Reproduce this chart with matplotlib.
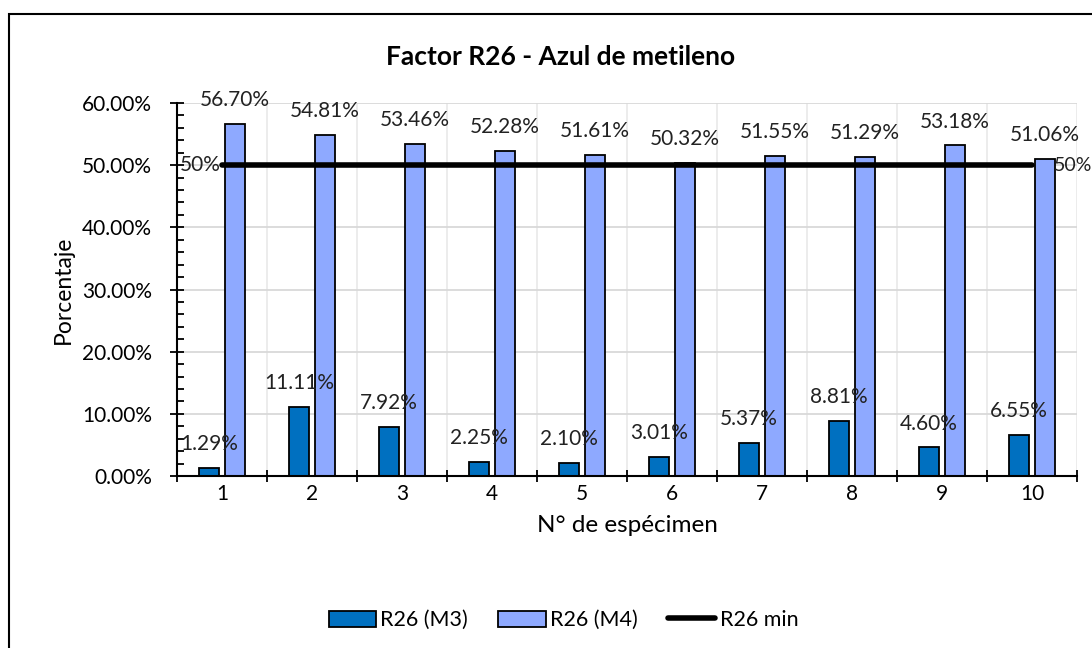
import matplotlib.pyplot as plt
import numpy as np
from matplotlib.patches import Rectangle
from matplotlib.ticker import MultipleLocator, PercentFormatter

plt.rcParams['font.family'] = ['Lato', 'DejaVu Sans']

# datos del ensayo
especimen = [1, 2, 3, 4, 5, 6, 7, 8, 9, 10]
r26_m3 = [1.29, 11.11, 7.92, 2.25, 2.10, 3.01, 5.37, 8.81, 4.60, 6.55]
r26_m4 = [56.70, 54.81, 53.46, 52.28, 51.61, 50.32, 51.55, 51.29, 53.18, 51.06]
r26_min = 50

fig = plt.figure(figsize=(10.92, 6.48), dpi=100)
ax = fig.add_axes([0.1621, 0.2654, 0.8242, 0.5756])

# marco del grafico
fig.patches.append(Rectangle((9 / 1092, -0.1), 1.2, 1 - 14 / 648 + 0.1,
                             transform=fig.transFigure, fill=False,
                             edgecolor='black', linewidth=1.5))

x = np.array(especimen)
w = 0.23
b1 = ax.bar(x - 0.145, r26_m3, w, color='#0070C0', edgecolor='black',
            linewidth=1.3, label='R26 (M3)', zorder=3)
b2 = ax.bar(x + 0.145, r26_m4, w, color='#8EA9FF', edgecolor='black',
            linewidth=1.3, label='R26 (M4)', zorder=3)
ln, = ax.plot([x[0], x[-1]], [r26_min, r26_min], color='black', linewidth=4,
              solid_capstyle='round', label='R26 min', zorder=4)

for xi, v in zip(x, r26_m3):
    ax.annotate(f'{v:.2f}%', (xi - 0.145, v), xytext=(0, 10),
                textcoords='offset points', ha='center', va='bottom',
                fontsize=15, color='#222222', zorder=5)
for xi, v in zip(x, r26_m4):
    ax.annotate(f'{v:.2f}%', (xi + 0.145, v), xytext=(0, 10),
                textcoords='offset points', ha='center', va='bottom',
                fontsize=15, color='#222222', zorder=5)

ax.annotate('50%', (x[0], r26_min), xytext=(-1, 0), textcoords='offset points',
            ha='right', va='center', fontsize=15, color='#222222', zorder=5)
ax.annotate('50%', (x[-1], r26_min), xytext=(16, 0), textcoords='offset points',
            ha='left', va='center', fontsize=14, color='#222222', zorder=5,
            annotation_clip=False)
ax.plot([x[-1] + 0.02, x[-1] + 0.18], [r26_min, r26_min], color='#A0A0A0',
        linewidth=1, zorder=2)

ax.set_xlim(0.5, 10.5)
ax.set_ylim(0, 60)
ax.yaxis.set_major_locator(MultipleLocator(10))
ax.yaxis.set_minor_locator(MultipleLocator(2))
ax.yaxis.set_major_formatter(PercentFormatter(decimals=2))
ax.set_xticks(especimen)
ax.set_xticks(np.arange(0.5, 11, 1), minor=True)
ax.tick_params(axis='x', which='major', length=0, pad=6, labelsize=15)
ax.tick_params(axis='x', which='minor', length=8, width=1.3, direction='inout')
ax.tick_params(axis='y', which='major', length=10, width=1.3, direction='inout',
               labelsize=15, pad=13)
ax.tick_params(axis='y', which='minor', length=5, width=1.3, direction='in')

ax.grid(True, which='major', axis='y', color='#D9D9D9', linewidth=1.3, zorder=0)
ax.grid(True, which='minor', axis='x', color='#EBEBEB', linewidth=1.3, zorder=0)
for s in ['top', 'right']:
    ax.spines[s].set_visible(False)
for s in ['left', 'bottom']:
    ax.spines[s].set_linewidth(1.5)
    ax.spines[s].set_zorder(6)

ax.set_xlabel('N° de espécimen', fontsize=17.5, labelpad=8)
ax.set_ylabel('Porcentaje', fontsize=16.5, labelpad=6)
fig.text(0.513, 0.912, 'Factor R26 - Azul de metileno', ha='center',
         va='center', fontsize=19, fontweight='bold')

fig.legend([b1, b2, ln], ['R26 (M3)', 'R26 (M4)', 'R26 min'], loc='center',
           bbox_to_anchor=(0.516, 0.043), ncol=3, frameon=False,
           fontsize=15.5, handlelength=2.2, handleheight=0.75,
           columnspacing=1.4, handletextpad=0.2)

fig.savefig('out.png', dpi=100)
